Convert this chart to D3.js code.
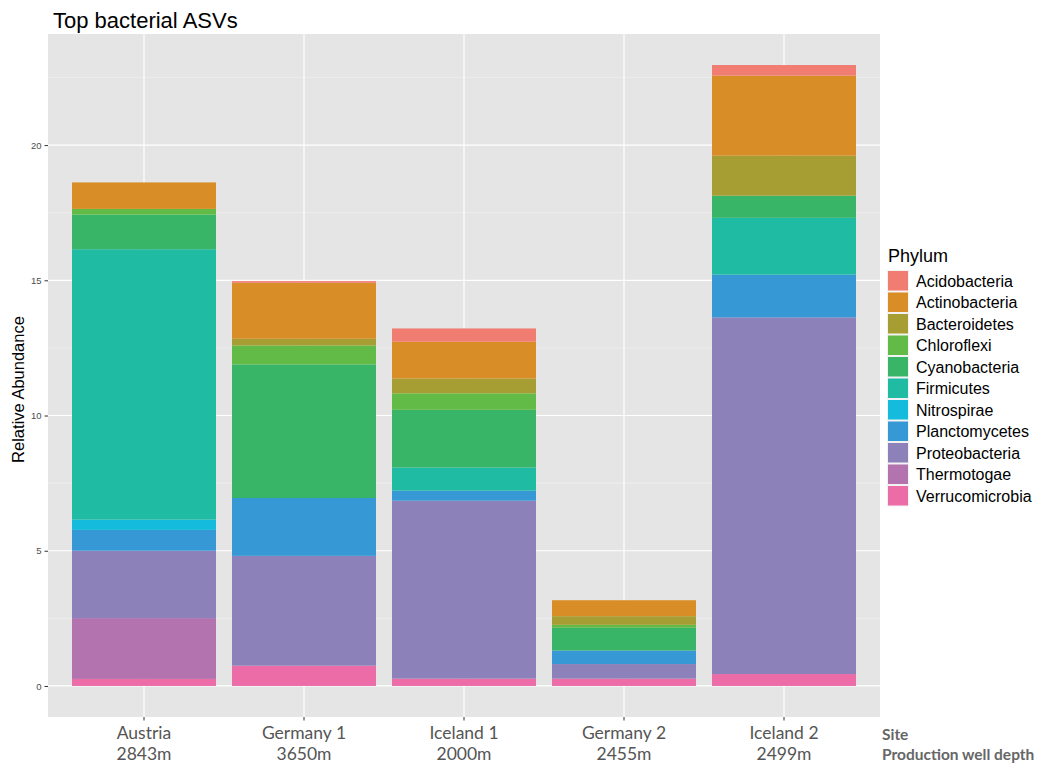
<!DOCTYPE html>
<html>
<head>
<meta charset="utf-8">
<script src="https://cdn.jsdelivr.net/npm/d3@7"></script>
<style>
  body { margin: 0; background: #fff; }
  svg { display: block; }
</style>
</head>
<body>
<svg id="chart" width="1043" height="764"></svg>
<script>
// Sites along the x axis and their production well depths
const sites = ["Austria", "Germany 1", "Iceland 1", "Germany 2", "Iceland 2"];
const depths = ["2843m", "3650m", "2000m", "2455m", "2499m"];

// Phyla in legend order (first level is stacked on top)
const phyla = ["Acidobacteria", "Actinobacteria", "Bacteroidetes", "Chloroflexi",
  "Cyanobacteria", "Firmicutes", "Nitrospirae", "Planctomycetes",
  "Proteobacteria", "Thermotogae", "Verrucomicrobia"];
const phylumColors = ["#F17C72", "#D98D26", "#A79E33", "#62BA47", "#39B567",
  "#20BBA3", "#14BBDD", "#3699D5", "#8D81BA", "#B273AF", "#EC6CA8"];

// Relative abundance per phylum, one value per site (same order as sites)
const acidobacteria   = [0.00, 0.06, 0.49, 0.00, 0.39];
const actinobacteria  = [0.98, 2.07, 1.36, 0.59, 2.96];
const bacteroidetes   = [0.00, 0.25, 0.55, 0.32, 1.48];
const chloroflexi     = [0.21, 0.70, 0.61, 0.11, 0.00];
const cyanobacteria   = [1.28, 4.94, 2.13, 0.84, 0.82];
const firmicutes      = [10.00, 0.00, 0.86, 0.00, 2.10];
const nitrospirae     = [0.38, 0.00, 0.00, 0.00, 0.00];
const planctomycetes  = [0.77, 2.14, 0.37, 0.50, 1.58];
const proteobacteria  = [2.49, 4.06, 6.58, 0.54, 13.19];
const thermotogae     = [2.25, 0.00, 0.00, 0.00, 0.00];
const verrucomicrobia = [0.26, 0.75, 0.27, 0.27, 0.44];

const yTicks = [0, 5, 10, 15, 20];
const yMinor = [2.5, 7.5, 12.5, 17.5, 22.5];

const seriesValues = [acidobacteria, actinobacteria, bacteroidetes, chloroflexi,
  cyanobacteria, firmicutes, nitrospirae, planctomycetes, proteobacteria,
  thermotogae, verrucomicrobia];

// Table for d3.stack: one row per site
const table = sites.map((s, i) => {
  const row = { site: s };
  phyla.forEach((p, j) => { row[p] = seriesValues[j][i]; });
  return row;
});

const svg = d3.select("#chart");
const panel = { left: 48, right: 880, top: 34, bottom: 717 };

const color = d3.scaleOrdinal().domain(phyla).range(phylumColors);

// Bars take 90% of each slot, with 0.6 slot of expansion on both ends
const x = d3.scaleBand()
  .domain(sites)
  .range([panel.left, panel.right])
  .paddingInner(0.1)
  .paddingOuter(0.15);

const totals = table.map(r => d3.sum(phyla, p => r[p]));
const yMax = d3.max(totals);
const pad = yMax * 0.05;
const y = d3.scaleLinear()
  .domain([-pad, yMax + pad])
  .range([panel.bottom, panel.top]);

// Panel background and grid
svg.append("rect")
  .attr("x", panel.left).attr("y", panel.top)
  .attr("width", panel.right - panel.left)
  .attr("height", panel.bottom - panel.top)
  .attr("fill", "#E5E5E5");

const grid = svg.append("g");
grid.selectAll(".minor").data(yMinor).join("line")
  .attr("x1", panel.left).attr("x2", panel.right)
  .attr("y1", d => y(d)).attr("y2", d => y(d))
  .attr("stroke", "#F2F2F2").attr("stroke-width", 0.6);
grid.selectAll(".major").data(yTicks).join("line")
  .attr("x1", panel.left).attr("x2", panel.right)
  .attr("y1", d => y(d)).attr("y2", d => y(d))
  .attr("stroke", "#fff").attr("stroke-width", 1.2);
grid.selectAll(".vmajor").data(sites).join("line")
  .attr("x1", d => x(d) + x.bandwidth() / 2).attr("x2", d => x(d) + x.bandwidth() / 2)
  .attr("y1", panel.top).attr("y2", panel.bottom)
  .attr("stroke", "#fff").attr("stroke-width", 1.2);

// Stacked bars: last phylum sits at the bottom
const stack = d3.stack().keys(phyla.slice().reverse());
const layers = stack(table);

svg.append("g").selectAll("g").data(layers).join("g")
  .attr("fill", d => color(d.key))
  .selectAll("rect").data(d => d).join("rect")
  .attr("x", d => x(d.data.site))
  .attr("width", x.bandwidth())
  .attr("y", d => y(d[1]))
  .attr("height", d => Math.max(0, y(d[0]) - y(d[1])));

// Y axis
const yAxis = svg.append("g")
  .attr("transform", `translate(${panel.left},0)`)
  .call(d3.axisLeft(y).tickValues(yTicks).tickSize(3.5).tickPadding(3));
yAxis.select(".domain").remove();
yAxis.selectAll(".tick line").attr("stroke", "#333").attr("stroke-width", 1);
yAxis.selectAll(".tick text")
  .attr("fill", "#4D4D4D")
  .style("font-family", "Liberation Sans, Arial, sans-serif")
  .style("font-size", "9.5px");

// X axis: site name plus depth line
const xAxis = svg.append("g")
  .attr("transform", `translate(0,${panel.bottom})`)
  .call(d3.axisBottom(x).tickSize(3.5).tickFormat(""));
xAxis.select(".domain").remove();
xAxis.selectAll(".tick line").attr("stroke", "#333").attr("stroke-width", 1);

const xl = svg.append("g")
  .style("font-family", "Lato, 'Open Sans', sans-serif")
  .style("font-size", "17.5px")
  .attr("fill", "#555")
  .attr("text-anchor", "middle");
xl.selectAll(".site").data(sites).join("text")
  .attr("x", d => x(d) + x.bandwidth() / 2)
  .attr("y", 739)
  .text(d => d);
xl.selectAll(".depth").data(depths).join("text")
  .attr("x", (d, i) => x(sites[i]) + x.bandwidth() / 2)
  .attr("y", 760)
  .text(d => d);

const side = svg.append("g")
  .style("font-family", "Lato, 'Open Sans', sans-serif")
  .style("font-size", "15.5px")
  .style("font-weight", "bold")
  .attr("fill", "#666");
side.append("text").attr("x", 882).attr("y", 740).text("Site");
side.append("text").attr("x", 882).attr("y", 760).text("Production well depth");

// Titles
svg.append("text")
  .attr("x", 53).attr("y", 28)
  .style("font-family", "Liberation Sans, Arial, sans-serif")
  .style("font-size", "22px")
  .attr("fill", "#000")
  .text("Top bacterial ASVs");

svg.append("text")
  .attr("transform", `translate(24,${(panel.top + panel.bottom) / 2 + 14}) rotate(-90)`)
  .attr("text-anchor", "middle")
  .style("font-family", "Liberation Sans, Arial, sans-serif")
  .style("font-size", "16.5px")
  .attr("fill", "#000")
  .text("Relative Abundance");

// Legend
const legend = svg.append("g").attr("transform", "translate(887,0)");
legend.append("text")
  .attr("x", 1).attr("y", 262)
  .style("font-family", "Liberation Sans, Arial, sans-serif")
  .style("font-size", "18px")
  .attr("fill", "#000")
  .text("Phylum");
const items = legend.selectAll(".item").data(phyla).join("g")
  .attr("transform", (d, i) => `translate(0,${270 + i * 21.5})`);
items.append("rect")
  .attr("width", 22).attr("height", 21.5)
  .attr("fill", "#F2F2F2");
items.append("rect")
  .attr("x", 1).attr("y", 1)
  .attr("width", 20).attr("height", 19.5)
  .attr("fill", d => color(d));
items.append("text")
  .attr("x", 29).attr("y", 16.5)
  .style("font-family", "Liberation Sans, Arial, sans-serif")
  .style("font-size", "16px")
  .attr("fill", "#000")
  .text(d => d);
</script>
</body>
</html>
